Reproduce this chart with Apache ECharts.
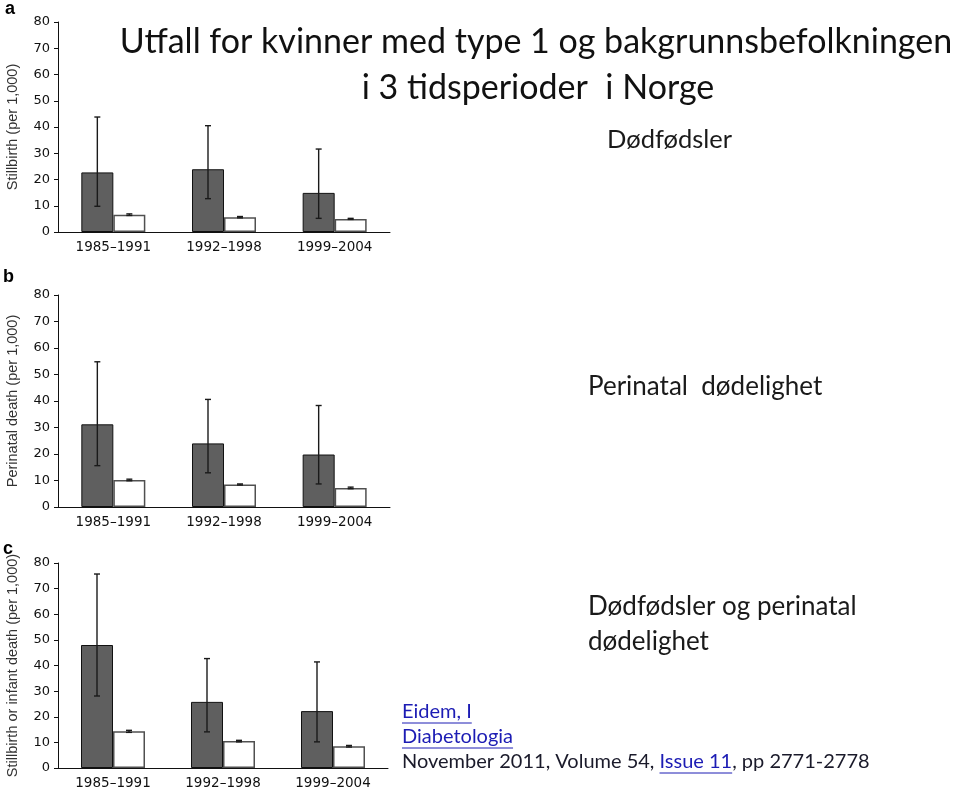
<!DOCTYPE html>
<html>
<head>
<meta charset="utf-8">
<script src="https://cdn.jsdelivr.net/npm/echarts@6/dist/echarts.min.js"></script>
<style>
html, body { margin: 0; padding: 0; background: #fff; }
#chart { width: 960px; height: 790px; }
</style>
</head>
<body>
<div id="chart"></div>
<script>
// perioder
const periods = ['1985–1991', '1992–1998', '1999–2004'];

// a: dødfødsler (per 1000)
const stillType1 = [22.7, 23.9, 14.9];
const stillType1Low = [9.8, 12.7, 5.2];
const stillType1High = [43.8, 40.5, 31.6];
const stillPop = [6.6, 5.6, 5.0];
const stillPopLow = [6.3, 5.4, 4.8];
const stillPopHigh = [6.9, 5.9, 5.2];

// b: perinatal dødelighet
const periType1 = [31.2, 24.0, 19.8];
const periType1Low = [15.6, 12.9, 8.7];
const periType1High = [54.8, 40.6, 38.3];
const periPop = [10.2, 8.5, 7.2];
const periPopLow = [9.9, 8.3, 6.9];
const periPopHigh = [10.5, 8.7, 7.5];

// c: dødfødsler eller spedbarnsdød
const infType1 = [48.0, 25.8, 22.2];
const infType1Low = [28.1, 14.1, 10.2];
const infType1High = [75.7, 42.7, 41.4];
const infPop = [14.3, 10.5, 8.5];
const infPopLow = [13.9, 10.2, 8.2];
const infPopHigh = [14.7, 10.8, 8.8];

const yNames = ['Stillbirth (per 1,000)', 'Perinatal death (per 1,000)', 'Stillbirth or infant death (per 1,000)'];
const panelLetters = ['a', 'b', 'c'];

const BAR_W = 32;
const chartFont = 'DejaVu Sans';
const textFont = 'Lato';

const grids = [
  { left: 58, top: 22, width: 332, height: 210 },
  { left: 58, top: 295, width: 332, height: 212 },
  { left: 58, top: 563, width: 330, height: 210 }
];

function errorBar(offset) {
  return function (params, api) {
    const idx = api.value(0);
    const lo = api.coord([idx, api.value(1)]);
    const hi = api.coord([idx, api.value(2)]);
    const x = lo[0] + offset;
    const cap = 3;
    const style = { stroke: '#1a1a1a', lineWidth: 1.4 };
    return {
      type: 'group',
      children: [
        { type: 'line', shape: { x1: x, y1: lo[1], x2: x, y2: hi[1] }, style: style },
        { type: 'line', shape: { x1: x - cap, y1: hi[1], x2: x + cap, y2: hi[1] }, style: style },
        { type: 'line', shape: { x1: x - cap, y1: lo[1], x2: x + cap, y2: lo[1] }, style: style }
      ]
    };
  };
}

function panelSeries(i, type1, type1Low, type1High, pop, popLow, popHigh) {
  return [
    {
      type: 'bar', xAxisIndex: i, yAxisIndex: i, data: type1,
      barWidth: BAR_W, barGap: '0%',
      itemStyle: { color: '#5f5f5f', borderColor: '#111', borderWidth: 1 }
    },
    {
      type: 'bar', xAxisIndex: i, yAxisIndex: i, data: pop,
      barWidth: BAR_W, barGap: '0%',
      itemStyle: { color: '#fff', borderColor: '#505050', borderWidth: 1.5 }
    },
    {
      type: 'custom', xAxisIndex: i, yAxisIndex: i, z: 5,
      renderItem: errorBar(-BAR_W / 2),
      encode: { x: 0, y: [1, 2] },
      data: periods.map((p, k) => [k, type1Low[k], type1High[k]])
    },
    {
      type: 'custom', xAxisIndex: i, yAxisIndex: i, z: 5,
      renderItem: errorBar(BAR_W / 2),
      encode: { x: 0, y: [1, 2] },
      data: periods.map((p, k) => [k, popLow[k], popHigh[k]])
    }
  ];
}

// måling av tekst for understreking
const measureCtx = document.createElement('canvas').getContext('2d');
function textWidth(str, font) {
  measureCtx.font = font;
  return measureCtx.measureText(str).width;
}

const citeFont = '20px ' + textFont;
const citeX = 402;
const linkColor = '#1c1cb4';
const citeStart = 'November 2011, Volume 54, ';
const citeIssue = 'Issue 11';
const citeEnd = ', pp 2771-2778';
const wStart = textWidth(citeStart, citeFont);
const wIssue = textWidth(citeIssue, citeFont);

function txt(text, x, y, font, color, align) {
  return {
    type: 'text', x: x, y: y, z: 10,
    style: {
      text: text, font: font, fill: color,
      align: align || 'left', verticalAlign: 'middle',
      textAlign: align || 'left', textVerticalAlign: 'middle'
    }
  };
}
function underline(x1, x2, y, color) {
  return { type: 'line', z: 10, shape: { x1: x1, y1: y, x2: x2, y2: y }, style: { stroke: color, lineWidth: 1 } };
}

const graphics = [
  txt('Utfall for kvinner med type 1 og bakgrunnsbefolkningen', 536, 42, '34px ' + textFont, '#111', 'center'),
  txt('i 3 tidsperioder  i Norge', 538, 88, '34px ' + textFont, '#111', 'center'),
  txt('Dødfødsler', 607, 140, '25.5px ' + textFont, '#1a1a1a'),
  txt('Perinatal  dødelighet', 588, 387, '26px ' + textFont, '#1a1a1a'),
  txt('Dødfødsler og perinatal', 588, 607, '26px ' + textFont, '#1a1a1a'),
  txt('dødelighet', 588, 642, '26px ' + textFont, '#1a1a1a'),
  txt('Eidem, I', citeX, 712, citeFont, linkColor),
  underline(citeX, citeX + textWidth('Eidem, I', citeFont), 723, linkColor),
  txt('Diabetologia', citeX, 737, citeFont, linkColor),
  underline(citeX, citeX + textWidth('Diabetologia', citeFont), 748, linkColor),
  txt(citeStart, citeX, 762, citeFont, '#1a1a2a'),
  txt(citeIssue, citeX + wStart, 762, citeFont, linkColor),
  underline(citeX + wStart, citeX + wStart + wIssue, 773, linkColor),
  txt(citeEnd, citeX + wStart + wIssue, 762, citeFont, '#1a1a2a'),
  txt(panelLetters[0], 5, 9, 'bold 18px Liberation Sans', '#000'),
  txt(panelLetters[1], 3, 277, 'bold 18px Liberation Sans', '#000'),
  txt(panelLetters[2], 3, 549, 'bold 18px Liberation Sans', '#000')
];

const chart = echarts.init(document.getElementById('chart'));
chart.setOption({
  animation: false,
  backgroundColor: '#fff',
  grid: grids,
  xAxis: grids.map((g, i) => ({
    type: 'category', gridIndex: i, data: periods,
    axisLine: { lineStyle: { color: '#111', width: 1 } },
    axisTick: { length: 3, lineStyle: { color: '#111' } },
    axisLabel: { fontFamily: chartFont, fontSize: 13.5, color: '#111', margin: 8 }
  })),
  yAxis: grids.map((g, i) => ({
    type: 'value', gridIndex: i, min: 0, max: 80, interval: 10,
    name: yNames[i], nameLocation: 'middle', nameGap: 38,
    nameTextStyle: { fontFamily: 'Liberation Sans', fontSize: 14.5, color: '#333' },
    axisLine: { show: true, lineStyle: { color: '#111', width: 1 } },
    axisTick: { show: true, length: 4, lineStyle: { color: '#111' } },
    axisLabel: { fontFamily: chartFont, fontSize: 13, color: '#111', margin: 8 },
    splitLine: { show: false }
  })),
  series: [].concat(
    panelSeries(0, stillType1, stillType1Low, stillType1High, stillPop, stillPopLow, stillPopHigh),
    panelSeries(1, periType1, periType1Low, periType1High, periPop, periPopLow, periPopHigh),
    panelSeries(2, infType1, infType1Low, infType1High, infPop, infPopLow, infPopHigh)
  ),
  graphic: graphics
});
</script>
</body>
</html>
